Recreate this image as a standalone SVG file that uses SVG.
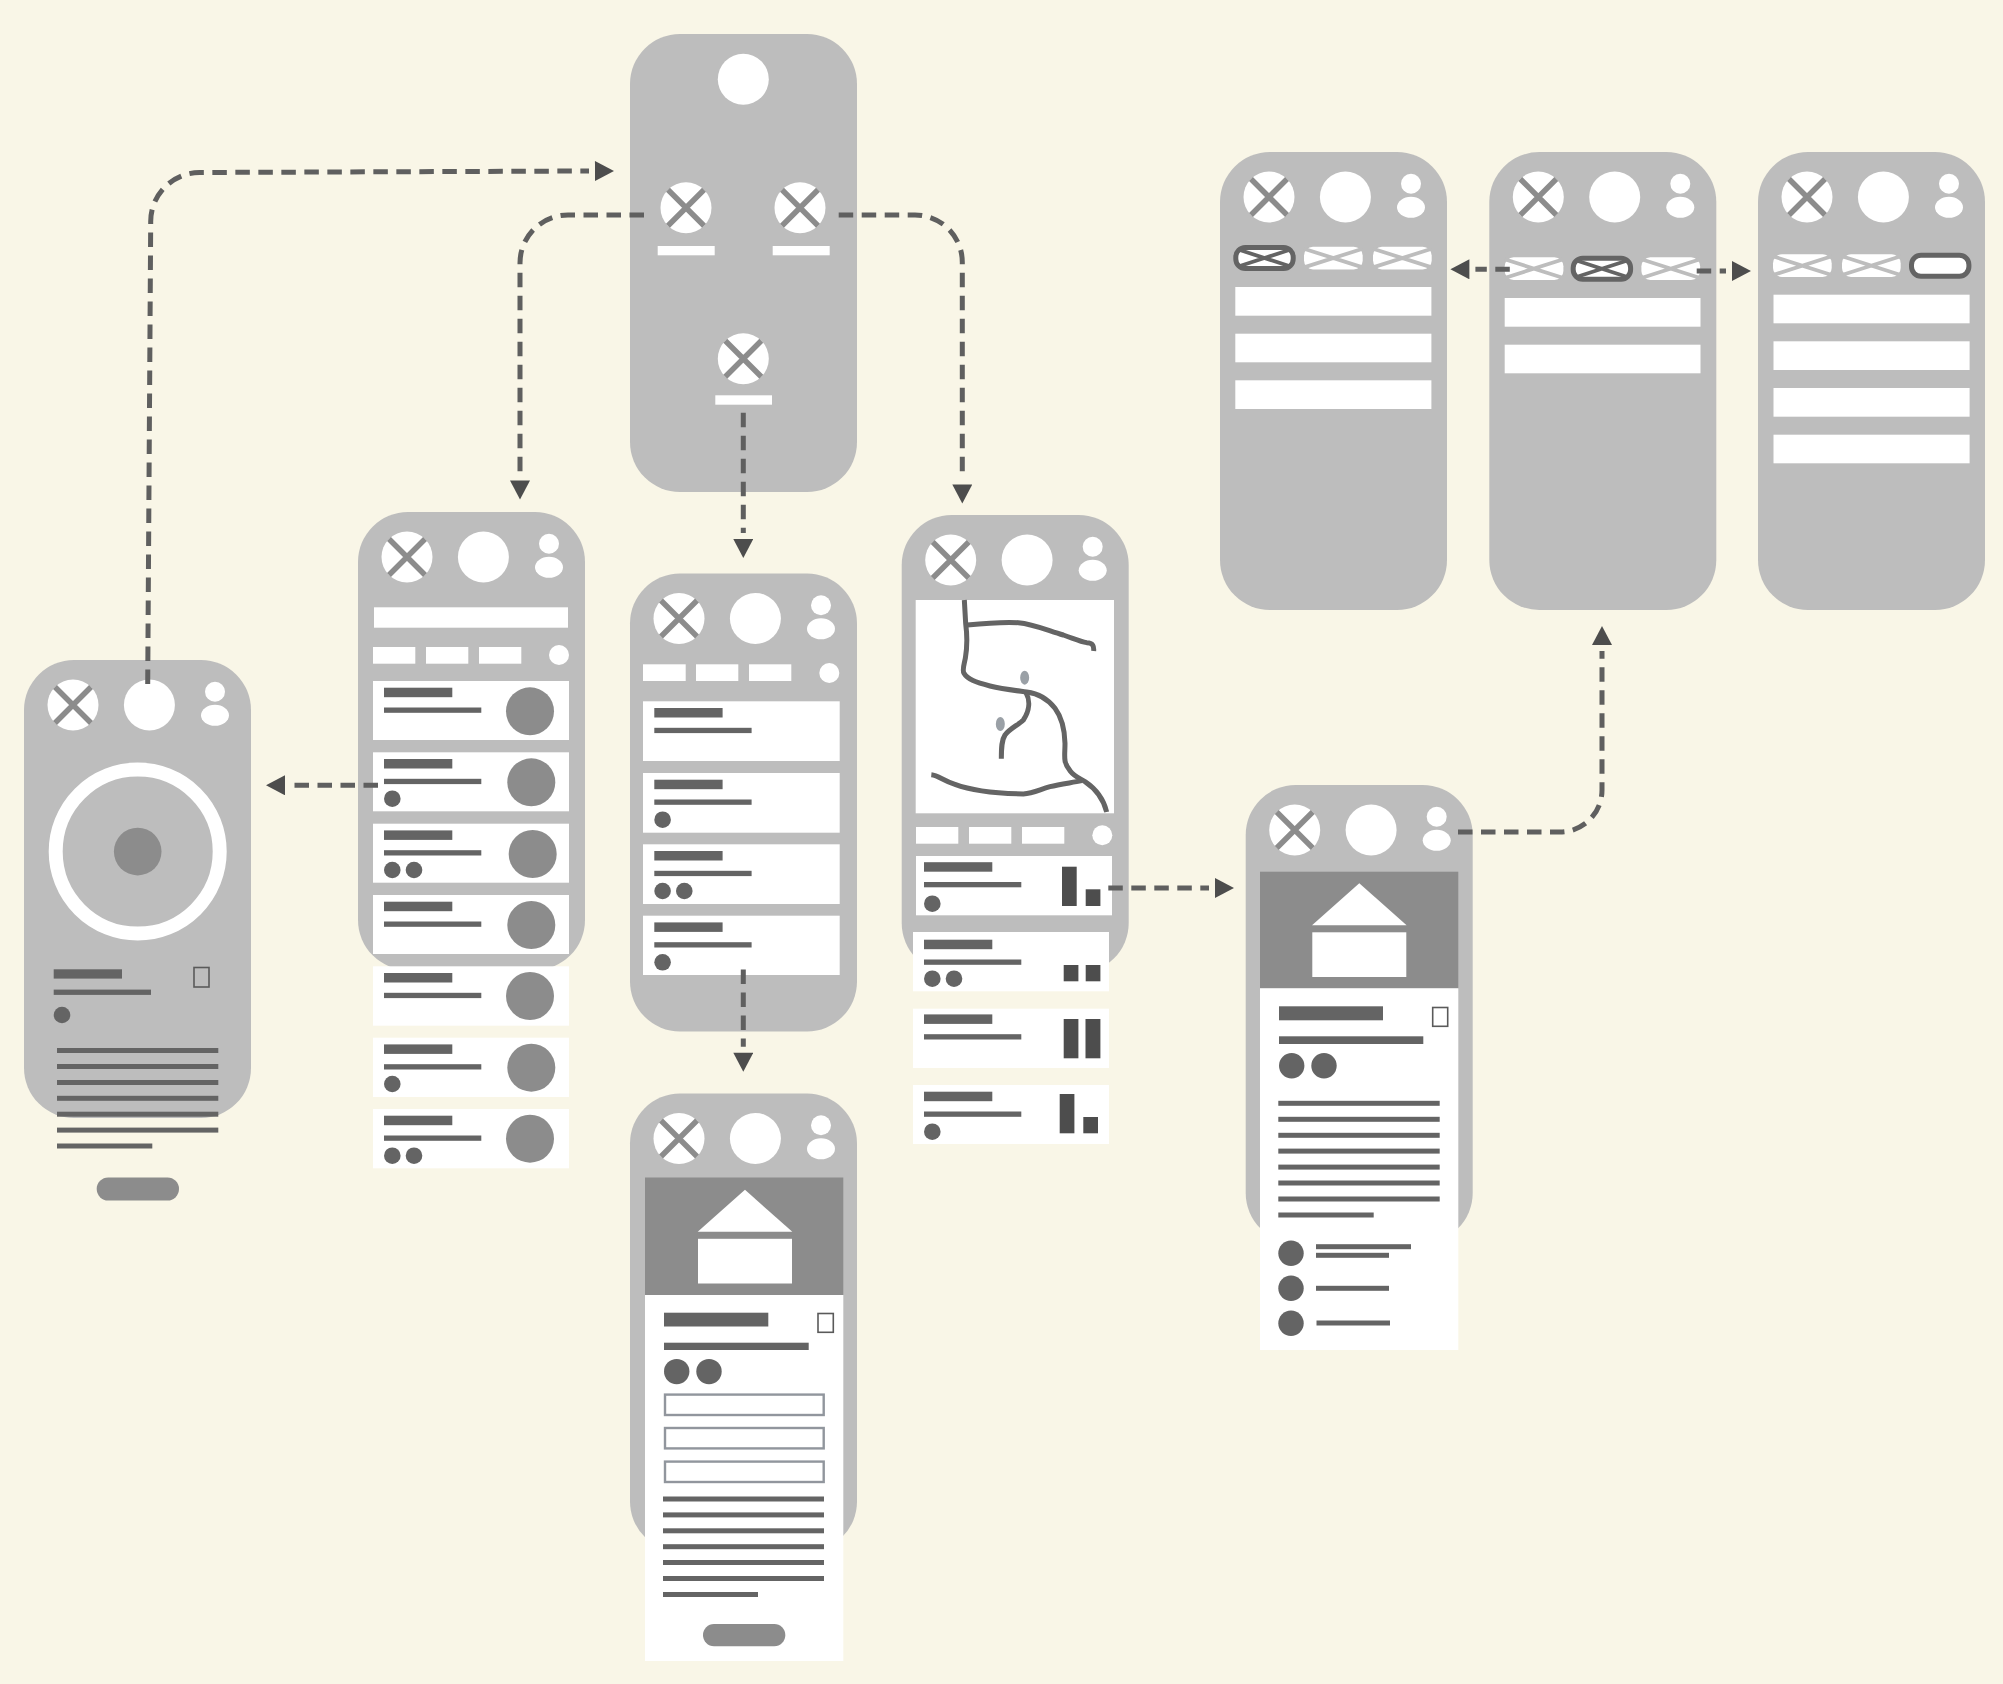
<svg xmlns="http://www.w3.org/2000/svg" xmlns:xlink="http://www.w3.org/1999/xlink" width="2003" height="1684" viewBox="0 0 2003 1684">
<style>
.ph{fill:#bdbdbd}
.w{fill:#fff}
.d{fill:#646464}
.m{fill:#8c8c8c}
.b{fill:#4d4d4d}
.xl{stroke:#8c8c8c;stroke-width:5.5;fill:none}
.chk{fill:none;stroke:#5a5a5a;stroke-width:1.6}
.inp{fill:#fff;stroke:#91969d;stroke-width:2.4}
.road{fill:none;stroke:#646464;stroke-width:15;stroke-linejoin:round}
.pin{fill:#9aa0a6}
.cn{fill:none;stroke:#5f5f5f;stroke-width:5;stroke-dasharray:14.5 8.5;marker-end:url(#ah)}
.tx{stroke:#bdbdbd;stroke-width:3.8}
.tx2{stroke:#646464;stroke-width:3.8}
.sel{fill:#fff;stroke:#646464;stroke-width:5}
</style>
<defs>
<marker id="ah" markerUnits="userSpaceOnUse" viewBox="0 0 25 20" markerWidth="25" markerHeight="20" refX="0" refY="10" orient="auto"><polygon class="b" points="6,0 25,10 6,20"/></marker>
<g id="xc"><circle class="w" r="25.5"/><path class="xl" d="M-18-18L18 18M18-18L-18 18"/></g>
<g id="hdr">
<use href="#xc" x="49" y="45"/>
<circle class="w" cx="125.4" cy="45" r="25.5"/>
<circle class="w" cx="191" cy="31.7" r="10"/>
<ellipse class="w" cx="191" cy="55.3" rx="14" ry="10.5"/>
</g>
<g id="ph"><rect class="ph" width="227" height="458" rx="50"/><use href="#hdr"/></g>
<g id="t"><rect class="d" y="6.7" width="68.3" height="9.5"/><rect class="d" y="26.5" width="97.3" height="5.3"/></g>
<g id="tab"><rect class="w" width="58.7" height="22.7" rx="9"/><path class="tx" d="M0 2L58.7 20.7M58.7 2L0 20.7"/></g>
<g id="tabs"><rect class="sel" x="2.5" y="2.5" width="57.4" height="21" rx="9.5"/></g>
<g id="tabsx"><use href="#tabs"/><path class="tx2" d="M5 4.5L57.4 21.5M57.4 4.5L5 21.5"/></g>
<g id="house"><polygon class="w" points="0,0 47.3,42 -47.3,42"/><rect class="w" x="-47" y="49" width="94" height="44.7"/></g>
</defs>
<rect width="2003" height="1684" fill="#f9f6e7"/>

<g id="node-player">
<use href="#ph" x="24" y="660"/>
<circle cx="137.7" cy="851.6" r="82" fill="none" stroke="#fff" stroke-width="14"/>
<circle class="m" cx="137.7" cy="851.6" r="23.8"/>
<rect class="d" x="53.7" y="969.3" width="68.3" height="9.3"/>
<rect class="d" x="53.7" y="989.6" width="97.3" height="5.3"/>
<circle class="d" cx="62" cy="1015" r="8.3"/>
<rect class="chk" x="194" y="967.5" width="15" height="19.5"/>
<rect class="d" x="57" y="1048" width="161.3" height="5"/>
<rect class="d" x="57" y="1064" width="161.3" height="5"/>
<rect class="d" x="57" y="1080" width="161.3" height="5"/>
<rect class="d" x="57" y="1095.8" width="161.3" height="5"/>
<rect class="d" x="57" y="1111.7" width="161.3" height="5"/>
<rect class="d" x="57" y="1127.6" width="161.3" height="5"/>
<rect class="d" x="57" y="1143.5" width="95.3" height="5"/>
<rect class="m" x="96.7" y="1177.5" width="82.3" height="23" rx="11.5"/>
</g>

<g id="node-list">
<use href="#ph" x="358" y="512"/>
<rect class="w" x="374" y="607.3" width="194" height="20.4"/>
<rect class="w" x="373" y="647" width="42.3" height="16.7"/>
<rect class="w" x="426" y="647" width="42.3" height="16.7"/>
<rect class="w" x="479" y="647" width="42.3" height="16.7"/>
<circle class="w" cx="559" cy="655" r="10"/>
<rect class="w" x="373" y="681" width="196" height="59"/><use href="#t" x="384" y="681"/><circle class="m" cx="530" cy="711.3" r="24"/>
<rect class="w" x="373" y="752.3" width="196" height="59"/><use href="#t" x="384" y="752.3"/><circle class="d" cx="392.3" cy="798.7" r="8.3"/><circle class="m" cx="531.3" cy="782.3" r="24"/>
<rect class="w" x="373" y="823.7" width="196" height="59"/><use href="#t" x="384" y="823.7"/><circle class="d" cx="392.3" cy="870" r="8.3"/><circle class="d" cx="414" cy="870" r="8.3"/><circle class="m" cx="532.7" cy="854" r="24"/>
<rect class="w" x="373" y="895" width="196" height="59"/><use href="#t" x="384" y="895"/><circle class="m" cx="531.3" cy="925" r="24"/>
<rect class="w" x="373" y="966.3" width="196" height="59.4"/><use href="#t" x="384" y="966.3"/><circle class="m" cx="530" cy="996" r="24"/>
<rect class="w" x="373" y="1037.7" width="196" height="59.3"/><use href="#t" x="384" y="1037.7"/><circle class="d" cx="392.3" cy="1084" r="8.3"/><circle class="m" cx="531.3" cy="1067.7" r="24"/>
<rect class="w" x="373" y="1109" width="196" height="59.3"/><use href="#t" x="384" y="1109"/><circle class="d" cx="392.3" cy="1155.7" r="8.3"/><circle class="d" cx="414" cy="1155.7" r="8.3"/><circle class="m" cx="530" cy="1138.7" r="24"/>
</g>

<g id="node-menu">
<rect class="ph" x="630" y="34" width="227" height="458" rx="50"/>
<circle class="w" cx="743.3" cy="79.3" r="25.5"/>
<use href="#xc" x="686" y="207.7"/>
<use href="#xc" x="800" y="207.7"/>
<use href="#xc" x="743.3" y="358.7"/>
<rect class="w" x="657.7" y="246" width="57" height="9.3"/>
<rect class="w" x="772.7" y="246" width="57" height="9.3"/>
<rect class="w" x="715.3" y="395.3" width="56.7" height="9.4"/>
</g>

<g id="node-sublist">
<use href="#ph" x="630" y="573.5"/>
<rect class="w" x="643" y="664.3" width="42.7" height="16.7"/>
<rect class="w" x="696" y="664.3" width="42.3" height="16.7"/>
<rect class="w" x="749" y="664.3" width="42.3" height="16.7"/>
<circle class="w" cx="829.3" cy="673" r="10"/>
<rect class="w" x="643" y="701.3" width="196.7" height="59.7"/><use href="#t" x="654.3" y="701.3"/>
<rect class="w" x="643" y="773" width="196.7" height="59.7"/><use href="#t" x="654.3" y="773"/><circle class="d" cx="662.6" cy="819.7" r="8.3"/>
<rect class="w" x="643" y="844.3" width="196.7" height="59.7"/><use href="#t" x="654.3" y="844.3"/><circle class="d" cx="662.6" cy="891" r="8.3"/><circle class="d" cx="684.3" cy="891" r="8.3"/>
<rect class="w" x="643" y="915.7" width="196.7" height="59.3"/><use href="#t" x="654.3" y="915.7"/><circle class="d" cx="662.6" cy="962.3" r="8.3"/>
</g>

<g id="node-detail-form">
<use href="#ph" x="630" y="1093.5"/>
<rect class="m" x="645" y="1177.5" width="198.3" height="117.5"/>
<use href="#house" x="745" y="1189.8"/>
<rect class="w" x="645" y="1295" width="198.3" height="366"/>
<rect class="d" x="664" y="1312.7" width="104.3" height="13.8"/>
<rect class="chk" x="818" y="1313.5" width="15.3" height="18.8"/>
<rect class="d" x="664" y="1342.7" width="144.7" height="7.3"/>
<circle class="d" cx="676.7" cy="1371.6" r="12.7"/>
<circle class="d" cx="709" cy="1371.6" r="12.7"/>
<rect class="inp" x="665" y="1394.6" width="158.7" height="20.4"/>
<rect class="inp" x="665" y="1428" width="158.7" height="20.4"/>
<rect class="inp" x="665" y="1461.6" width="158.7" height="20.4"/>
<rect class="d" x="663" y="1496.5" width="161" height="5"/>
<rect class="d" x="663" y="1512.4" width="161" height="5"/>
<rect class="d" x="663" y="1528.3" width="161" height="5"/>
<rect class="d" x="663" y="1544.2" width="161" height="5"/>
<rect class="d" x="663" y="1560" width="161" height="5"/>
<rect class="d" x="663" y="1576" width="161" height="5"/>
<rect class="d" x="663" y="1592" width="95" height="5"/>
<rect class="m" x="703" y="1624" width="82.3" height="22.3" rx="11"/>
</g>

<g id="node-map">
<use href="#ph" x="901.7" y="515"/>
<rect class="w" x="915.7" y="600" width="198.3" height="213.3"/>
<g transform="translate(890 500) scale(.33333)">
<path class="road" d="M223 300L227 370C231 400 232 440 226 475C222 495 216 510 222 520C232 538 258 547 300 558C340 568 380 572 410 576C440 580 470 592 495 625C515 652 524 690 525 730C525 770 518 785 540 812C552 828 565 833 585 845C615 865 640 895 650 936"/>
<path class="road" d="M232 375C290 369 340 366 385 368C430 372 470 390 520 405C550 415 570 424 590 428C610 428 612 440 611 453"/>
<path class="road" d="M408 578C420 600 420 630 400 660C385 675 360 685 345 705C335 720 334 740 334 776"/>
<path class="road" d="M124 824C145 826 160 842 195 853C240 870 300 880 400 882C430 880 450 868 480 860C510 853 545 848 575 842"/>
<ellipse class="pin" cx="404" cy="533" rx="13.5" ry="21"/>
<ellipse class="pin" cx="331" cy="672" rx="13.5" ry="21"/>
</g>
<rect class="w" x="916" y="827" width="42.3" height="16.7"/>
<rect class="w" x="969" y="827" width="42.3" height="16.7"/>
<rect class="w" x="1022" y="827" width="42.3" height="16.7"/>
<circle class="w" cx="1102.3" cy="835.3" r="10"/>
<rect class="w" x="916" y="856" width="196" height="59.3"/><use href="#t" x="924" y="855.5"/><circle class="d" cx="932.3" cy="903.7" r="8.3"/><rect class="b" x="1062" y="866.7" width="14.7" height="39.3"/><rect class="b" x="1085.7" y="889.3" width="14.7" height="16.7"/>
<rect class="w" x="913" y="932" width="196" height="59.3"/><use href="#t" x="924" y="933"/><circle class="d" cx="932.3" cy="978.7" r="8.3"/><circle class="d" cx="954" cy="978.7" r="8.3"/><rect class="b" x="1063.7" y="965" width="14.7" height="16.3"/><rect class="b" x="1085.7" y="965" width="14.7" height="16.3"/>
<rect class="w" x="913" y="1008.7" width="196" height="59.3"/><use href="#t" x="924" y="1007.7"/><rect class="b" x="1063.7" y="1019" width="14.7" height="39.3"/><rect class="b" x="1085.5" y="1019" width="14.9" height="39.3"/>
<rect class="w" x="913" y="1085" width="196" height="59"/><use href="#t" x="924" y="1085"/><circle class="d" cx="932.3" cy="1131.7" r="8.3"/><rect class="b" x="1059.7" y="1094" width="14.7" height="39.3"/><rect class="b" x="1083.3" y="1117" width="14.7" height="16.3"/>
</g>

<g id="node-detail">
<use href="#ph" x="1245.7" y="785"/>
<rect class="m" x="1260" y="871.7" width="198.3" height="116.6"/>
<use href="#house" x="1359.3" y="883.3"/>
<rect class="w" x="1260" y="988.3" width="198.3" height="361.7"/>
<rect class="d" x="1279" y="1006.3" width="104" height="14"/>
<rect class="chk" x="1432.7" y="1007.5" width="15" height="18.8"/>
<rect class="d" x="1279" y="1036.3" width="144.3" height="7.7"/>
<circle class="d" cx="1291.7" cy="1065.7" r="12.7"/>
<circle class="d" cx="1324" cy="1065.7" r="12.7"/>
<rect class="d" x="1278.3" y="1100.8" width="161.4" height="5"/>
<rect class="d" x="1278.3" y="1116.8" width="161.4" height="5"/>
<rect class="d" x="1278.3" y="1132.8" width="161.4" height="5"/>
<rect class="d" x="1278.3" y="1148.6" width="161.4" height="5"/>
<rect class="d" x="1278.3" y="1164.6" width="161.4" height="5"/>
<rect class="d" x="1278.3" y="1180.5" width="161.4" height="5"/>
<rect class="d" x="1278.3" y="1196.5" width="161.4" height="5"/>
<rect class="d" x="1278.3" y="1212.5" width="95.4" height="5"/>
<circle class="d" cx="1291" cy="1253.3" r="12.7"/>
<circle class="d" cx="1291" cy="1288.3" r="12.7"/>
<circle class="d" cx="1291" cy="1323.3" r="12.7"/>
<rect class="d" x="1316" y="1244.2" width="95" height="5"/>
<rect class="d" x="1316" y="1252.8" width="73" height="5"/>
<rect class="d" x="1316" y="1285.8" width="73" height="5"/>
<rect class="d" x="1316.5" y="1320.5" width="73.5" height="5"/>
</g>

<g id="node-tab-1">
<use href="#ph" x="1220" y="152"/>
<use href="#tabsx" x="1233.3" y="245"/>
<use href="#tab" x="1304" y="246.7"/>
<use href="#tab" x="1373" y="246.7"/>
<rect class="w" x="1235.3" y="287" width="196.1" height="28.7"/>
<rect class="w" x="1235.3" y="333.7" width="196.1" height="28.6"/>
<rect class="w" x="1235.3" y="380.3" width="196.1" height="28.7"/>
</g>
<g id="node-tab-2">
<use href="#ph" x="1489.3" y="152"/>
<use href="#tab" x="1504.7" y="257.3"/>
<use href="#tabsx" x="1570.7" y="255.7"/>
<use href="#tab" x="1641.4" y="257.3"/>
<rect class="w" x="1504.7" y="298" width="195.8" height="28.7"/>
<rect class="w" x="1504.7" y="344.7" width="195.8" height="28.6"/>
</g>
<g id="node-tab-3">
<use href="#ph" x="1758" y="152"/>
<use href="#tab" x="1773" y="254.3"/>
<use href="#tab" x="1842" y="254.3"/>
<use href="#tabs" x="1909" y="252.7"/>
<rect class="w" x="1773.5" y="294.7" width="196.1" height="28.6"/>
<rect class="w" x="1773.5" y="341.3" width="196.1" height="28.7"/>
<rect class="w" x="1773.5" y="388" width="196.1" height="28.7"/>
<rect class="w" x="1773.5" y="434.7" width="196.1" height="28.6"/>
</g>

<g id="connectors">
<path class="cn" d="M147.7 684L150.7 222A49 49 0 0 1 199.5 172.5L589 171"/>
<path class="cn" d="M644 215H568A48 48 0 0 0 520 263V474.5"/>
<path class="cn" d="M838.7 215H915A47.3 47.3 0 0 1 962.3 262.3V478.5"/>
<path class="cn" d="M743.3 412.7V533"/>
<path class="cn" d="M743.3 969.6V1046.7"/>
<path class="cn" d="M378 785.3H291"/>
<path class="cn" d="M1108.3 888H1209"/>
<path class="cn" d="M1458 832H1560A42 42 0 0 0 1602 790V651"/>
<path class="cn" d="M1509.8 269.3H1475.4"/>
<path class="cn" d="M1696.7 271H1726"/>
</g>
</svg>
